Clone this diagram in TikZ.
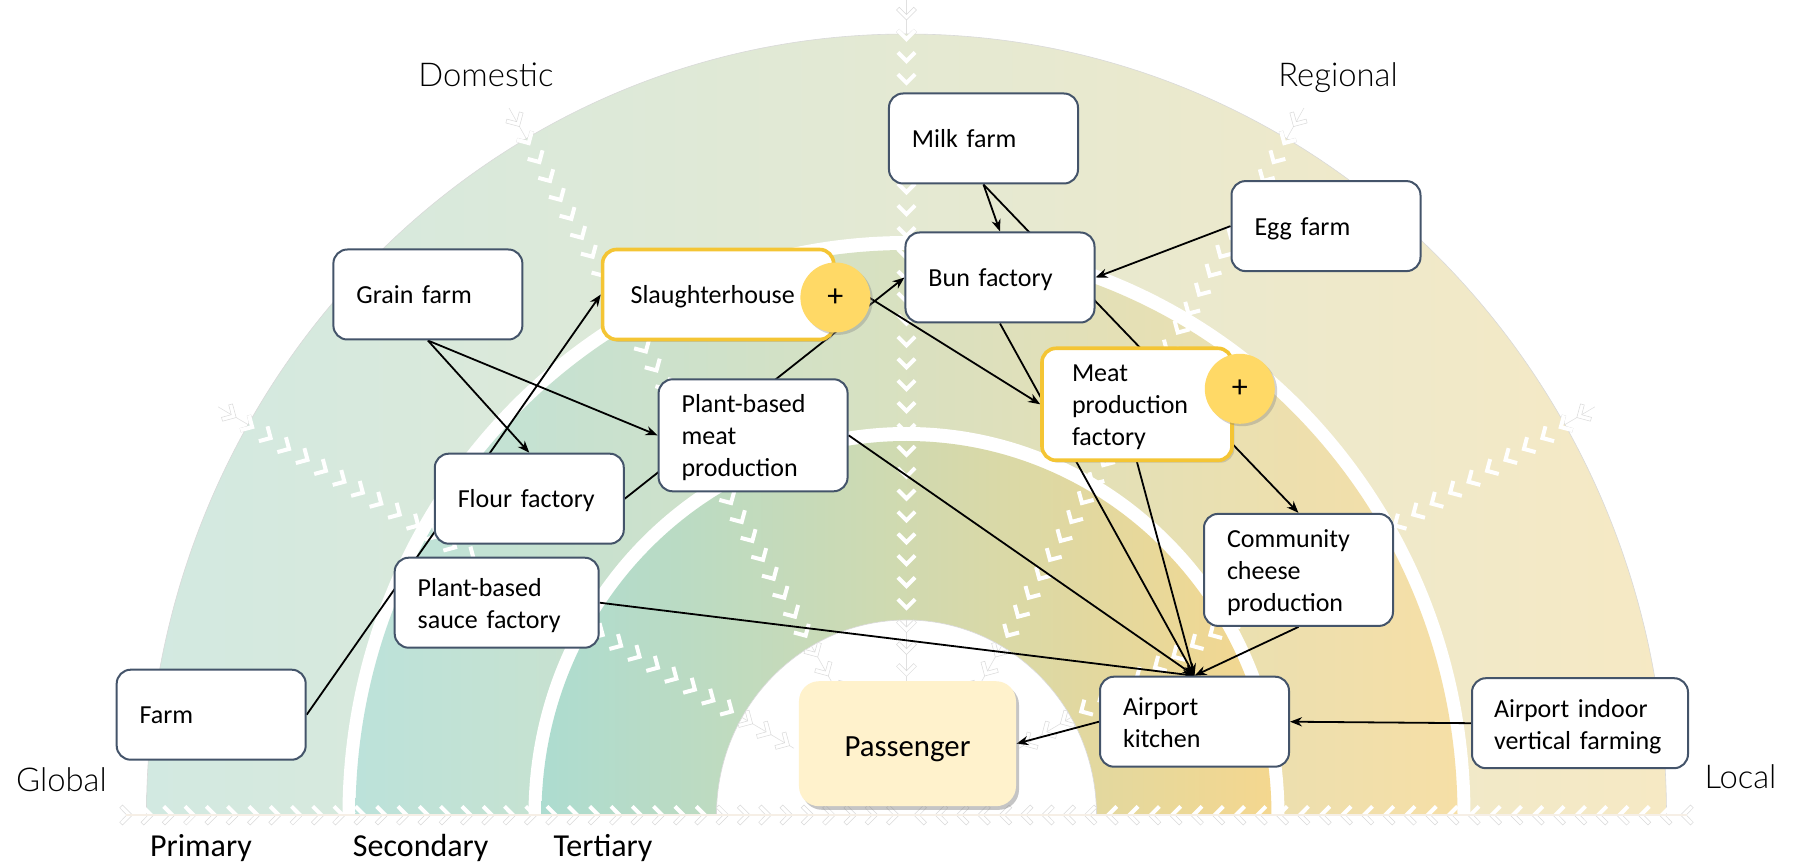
\documentclass[tikz,border=0pt]{standalone}
\usepackage{fontspec}
\setmainfont{Carlito}
\newfontfamily\reachfont{Lato Light}
\usetikzlibrary{positioning,shadows,backgrounds,arrows.meta}

\definecolor{boxedge}{HTML}{44546A}
\definecolor{goldedge}{HTML}{F4C534}
\definecolor{plusgold}{HTML}{FFD966}
\definecolor{passengerfill}{HTML}{FFF2CC}
\definecolor{groundline}{HTML}{F6EFE6}

\tikzset{chevron/.pic={\path[pic actions] (0,0) -- (-10,10) -- (-12.8,7.2) -- (-5.7,0) -- (-12.8,-7.2) -- (-10,-10) -- cycle;}}

\begin{document}
\begin{tikzpicture}[x=.5pt, y=.5pt, font=\fontsize{13}{16}\selectfont,
	stage/.style={rectangle, draw=boxedge, line width=1pt, fill=white, rounded corners=7pt, align=left, minimum height=45pt, inner xsep=11.5pt, text width=71.5pt},
	one line/.style={text depth=-1pt},
	two lines/.style={text depth=15pt},
	three lines/.style={text depth=31.5pt, minimum height=56pt},
	highlight/.style={stage, draw=goldedge, line width=1.8pt, drop shadow={shadow xshift=1.2pt, shadow yshift=-1.2pt, opacity=.3}},
	plus/.style={circle, fill=plusgold, minimum size=35pt, inner sep=0, font=\fontsize{16}{16}\selectfont, drop shadow={shadow xshift=1.2pt, shadow yshift=-1.2pt, opacity=.35}},
	links/.style={-{Stealth[length=6pt, width=4.6pt]}, line width=.9pt},
	spoke/.style={draw=black!12, line width=.3pt},
	ghost/.style={draw=black!15, fill=white, line width=.25pt},
	solid chevron/.style={fill=white},
	reach/.style={font=\fontsize{16.4}{19}\selectfont\reachfont},
	tier/.style={font=\fontsize{16}{19}\selectfont}]

	\useasboundingbox (-906.5,-48) rectangle (898.5,815);

	\begin{scope}[on background layer]
		\foreach \a in {30,60,...,150} {
			\draw[spoke] ({795*cos(\a)},{1.027*795*sin(\a)}) -- ({130*cos(\a)},{1.027*130*sin(\a)});
			\foreach \k [evaluate=\k as \r using 774-21.3*\k] in {0,...,30}
				\pic[ghost, rotate=\a+180] at ({\r*cos(\a)},{1.027*\r*sin(\a)}) {chevron};
		}

		\shadedraw[left color={rgb,255:red,210;green,233;blue,225}, middle color={rgb,255:red,227;green,232;blue,212}, right color={rgb,255:red,246;green,233;blue,196}, draw=black!15, line width=.3pt] (-760,0) arc[x radius=760, y radius=781, start angle=180, end angle=0] -- cycle;
		\fill[white] (-564,0) arc[x radius=564, y radius=579, start angle=180, end angle=0] -- cycle;
		\shade[left color={rgb,255:red,188;green,226;blue,218}, middle color={rgb,255:red,222;green,225;blue,192}, right color={rgb,255:red,246;green,223;blue,166}] (-551,0) arc[x radius=551, y radius=565, start angle=180, end angle=0] -- cycle;
		\fill[white] (-378,0) arc[x radius=378, y radius=388, start angle=180, end angle=0] -- cycle;
		\shade[left color={rgb,255:red,173;green,220;blue,208}, middle color={rgb,255:red,215;green,219;blue,172}, right color={rgb,255:red,244;green,215;blue,143}] (-365,0) arc[x radius=365, y radius=374, start angle=180, end angle=0] -- cycle;
		\filldraw[fill=white, draw=black!15, line width=.3pt] (-190,0) arc[x radius=190, y radius=195, start angle=180, end angle=0] -- cycle;

		\foreach \a in {30,60,...,150} {
			\draw[spoke] ({190*cos(\a)},{1.027*190*sin(\a)}) -- ({130*cos(\a)},{1.027*130*sin(\a)});
			\foreach \k [evaluate=\k as \r using 774-21.3*\k] in {28,29,30}
				\pic[ghost, rotate=\a+180] at ({\r*cos(\a)},{1.027*\r*sin(\a)}) {chevron};
			\foreach \k [evaluate=\k as \r using 774-21.3*\k] in {1,...,27}
				\pic[solid chevron, rotate=\a+180] at ({\r*cos(\a)},{1.027*\r*sin(\a)}) {chevron};
		}
		\foreach \a in {0,180} {
			\pic[ghost, rotate=\a+180] at ({774*cos(\a)},0) {chevron};
			\foreach \k [evaluate=\k as \r using 774-21.3*\k] in {28,...,36}
				\pic[ghost, rotate=\a+180] at ({\r*cos(\a)},0) {chevron};
			\begin{scope}
				\clip (-800,-30) rectangle (800,0);
				\foreach \k [evaluate=\k as \r using 774-21.3*\k] in {1,...,27}
					\pic[ghost, rotate=\a+180] at ({\r*cos(\a)},0) {chevron};
			\end{scope}
			\begin{scope}
				\clip (-800,0) rectangle (800,30);
				\foreach \k [evaluate=\k as \r using 774-21.3*\k] in {1,...,27}
					\pic[solid chevron, rotate=\a+180] at ({\r*cos(\a)},0) {chevron};
			\end{scope}
		}
		\draw[draw=groundline, line width=1pt] (-780,0) -- (780,0);
	\end{scope}

	\node[stage, one line] at (77,676.5) (milkfarm) {Milk farm};
	\node[stage, one line, below = 23.5pt of milkfarm, xshift=8.25pt] (bunfactory) {Bun factory};
	\node[stage, one line, right = 67.5pt of bunfactory, yshift=25.7pt] (eggfarm) {Egg farm};
	\node[highlight, three lines, below = 11.5pt of bunfactory, xshift=68.5pt, inner xsep=15pt, text width=65pt] (meatfactory) {Meat\\production\\factory};
	\node[stage, three lines, below = 25.4pt of meatfactory, xshift=80.75pt] (cheese) {Community\\cheese\\production};
	\node[stage, two lines, below = 24.4pt of cheese, xshift=-52pt] (kitchen) {Airport\\kitchen};
	\node[stage, two lines, right = 90.5pt of kitchen, yshift=-.75pt, inner xsep=11pt, text width=86pt] (indoorfarm) {Airport indoor\\vertical farming};
	\node[rectangle, left = 41.3pt of kitchen, yshift=-11pt, fill=passengerfill, rounded corners=10pt, minimum width=108.5pt, minimum height=62.5pt, text height=15pt, font=\fontsize{15.4}{18}\selectfont, drop shadow={shadow xshift=1.5pt, shadow yshift=-1.8pt, opacity=.45}] (passenger) {Passenger};

	\node[stage, three lines, left = 95.8pt of meatfactory, yshift=-15.5pt] (plantmeat) {Plant-based\\meat\\production};
	\node[highlight, one line, above = 18.5pt of plantmeat, xshift=-17.5pt, inner xsep=14pt, text width=87.5pt] (slaughterhouse) {Slaughterhouse};
	\node[stage, one line, left = 38.7pt of slaughterhouse] (grainfarm) {Grain farm};
	\node[stage, one line, left = 16.4pt of plantmeat, yshift=-31.7pt] (flourfactory) {Flour factory};
	\node[stage, two lines, below = 6pt of flourfactory, xshift=-16.3pt, text width=79pt] (saucefactory) {Plant-based\\sauce factory};
	\node[stage, one line, below = 10pt of saucefactory, xshift=-142.75pt] (farm) {Farm};

	\node[plus] at ([yshift=-1.5pt]slaughterhouse.east) (plusslaughter) {+};
	\node[plus] at ([xshift=3pt, yshift=7.75pt]meatfactory.east) (plusmeat) {+};

	\node[reach] at (-420.5,740) (domestic) {Domestic};
	\node[reach] at (431.5,737) (regional) {Regional};
	\node[reach] at (-845,35) (global) {Global};
	\node[reach] at (834,38) (local) {Local};
	\node[tier] at (-705.5,-33) (primary) {Primary};
	\node[tier, right = 43.5pt of primary] (secondary) {Secondary};
	\node[tier, right = 25.5pt of secondary] (tertiary) {Tertiary};

	\begin{scope}[on background layer]
		\draw[links] (milkfarm.south) -- (bunfactory.north);
		\draw[links] (milkfarm.south) -- (cheese.north);
		\draw[links] (eggfarm.west) -- (bunfactory.east);
		\draw[links] (grainfarm.south) -- (flourfactory.north);
		\draw[links] (grainfarm.south) -- (plantmeat.west);
		\draw[links] (farm.east) -- (slaughterhouse.west);
		\draw[links] (flourfactory.east) -- (bunfactory.west);
		\draw[links] ([yshift=9pt]slaughterhouse.east) -- (meatfactory.west);
		\draw[links] (bunfactory.south) -- (kitchen.north);
		\draw[links] (meatfactory.south) -- (kitchen.north);
		\draw[links] (plantmeat.east) -- (kitchen.north);
		\draw[links] (saucefactory.east) -- (kitchen.north);
		\draw[links] (cheese.south) -- (kitchen.north);
		\draw[links] (indoorfarm.west) -- (kitchen.east);
		\draw[links] (kitchen.west) -- (passenger.east);
	\end{scope}
\end{tikzpicture}
\end{document}
